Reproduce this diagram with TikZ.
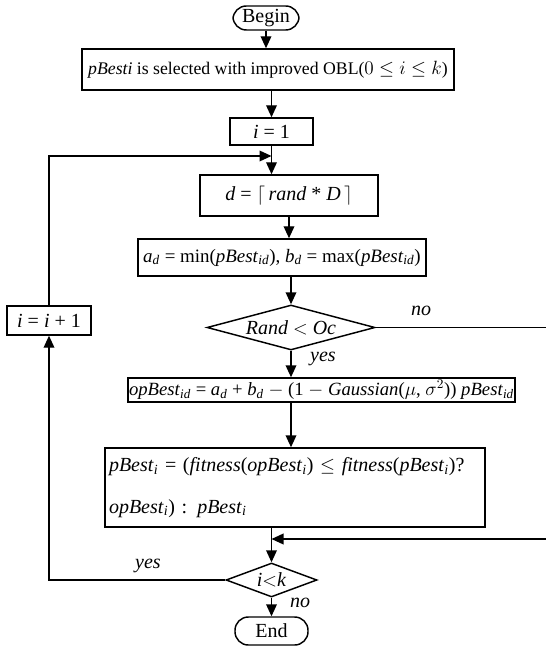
\documentclass[tikz,border=0pt]{standalone}
\usepackage{fontspec}
\setmainfont{Liberation Serif}
\setmathrm{Liberation Serif}
\usetikzlibrary{arrows.meta,shapes.geometric}

\newcommand{\iv}[1]{\textit{#1}}

\tikzset{
  arr/.style={-{Triangle[length=9pt,width=8pt]}},
  procbox/.style={draw,line width=1.1pt,inner sep=0pt},
  termbox/.style={draw,line width=1.1pt,rounded corners=10pt,inner sep=0pt},
  decbox/.style={draw,diamond,line width=1.1pt,inner sep=0pt},
  lbl/.style={font=\fontsize{15}{17}\selectfont\itshape}
}

\begin{document}
\begin{tikzpicture}[x=0.75pt,y=0.75pt,yscale=-1,line width=1.1pt,font=\fontsize{15}{17}\selectfont]
\useasboundingbox (0,0) rectangle (545,648);

%Shape: Terminal
\node (begin) at (266,18) [termbox,minimum width=66*0.75pt,minimum height=24*0.75pt] {Begin};
%Shape: Rectangle
\node (obl) at (268,69.5) [procbox,minimum width=372*0.75pt,minimum height=41*0.75pt,font=\fontsize{13.3}{16}\selectfont] {\iv{pBesti} is selected with improved OBL($0 \leq i \leq k$)};
%Shape: Rectangle
\node (i1) at (271.5,131.5) [procbox,minimum width=83*0.75pt,minimum height=27*0.75pt] {\iv{i} = 1};
%Shape: Rectangle
\node (dbox) at (289,195.5) [procbox,minimum width=178*0.75pt,minimum height=41*0.75pt] {\iv{d} = $\lceil$\,\iv{rand} * \iv{D}\,$\rceil$};
%Shape: Rectangle
\node (ab) at (282,257.5) [procbox,minimum width=288*0.75pt,minimum height=37*0.75pt,font=\fontsize{14.2}{16}\selectfont] {\iv{a}\textsubscript{\iv{d}} = min(\iv{pBest}\textsubscript{\iv{id}}), \iv{b}\textsubscript{\iv{d}} = max(\iv{pBest}\textsubscript{\iv{id}})};
%Shape: Diamond
\node (rand) at (291,327.5) [decbox,minimum width=168*0.75pt,minimum height=45*0.75pt,aspect=3.7] {\iv{Rand} $<$ \iv{Oc}};
%Shape: Rectangle
\node (op) at (321.5,390) [procbox,minimum width=387*0.75pt,minimum height=24*0.75pt,font=\fontsize{14}{16}\selectfont] {\iv{opBest}\textsubscript{\iv{id}} = \iv{a}\textsubscript{\iv{d}} + \iv{b}\textsubscript{\iv{d}} $-$ (1 $-$ \iv{Gaussian}($\mu$, $\sigma^2$)) \iv{pBest}\textsubscript{\iv{id}}};
%Shape: Rectangle
\node (pb) at (295,487.5) [procbox,minimum width=380*0.75pt,minimum height=79*0.75pt,text width=372*0.75pt,align=left,font=\fontsize{15}{31}\selectfont] {\iv{pBest}\textsubscript{\iv{i}} = (\iv{fitness}(\iv{opBest}\textsubscript{\iv{i}}) $\leq$ \iv{fitness}(\iv{pBest}\textsubscript{\iv{i}})?\\\iv{opBest}\textsubscript{\iv{i}}) : \iv{pBest}\textsubscript{\iv{i}}};
%Shape: Diamond
\node (ik) at (271.5,580) [decbox,minimum width=91*0.75pt,minimum height=34*0.75pt,aspect=2.7] {\iv{i}$<$\iv{k}};
%Shape: Terminal
\node (endn) at (271.5,631) [termbox,minimum width=73*0.75pt,minimum height=28*0.75pt] {End};
%Shape: Rectangle
\node (inc) at (49,320.5) [procbox,minimum width=84*0.75pt,minimum height=29*0.75pt] {\iv{i} = \iv{i} + 1};

%Coordinates for bends
\coordinate (loop) at (49,156);
\coordinate (nr) at (548,327.5);
\coordinate (nb) at (548,539);

%Straight Lines
\draw[arr] (begin.south) -- (begin.south |- obl.north);
\draw[arr] (obl.south -| i1.north) -- (i1.north);
\draw[arr] (i1.south) -- (i1.south |- dbox.north);
\draw[arr] (dbox.south) -- (dbox.south |- ab.north);
\draw[arr] (ab.south -| rand.north) -- (rand.north);
\draw[arr] (rand.south) -- (rand.south |- op.north);
\draw[arr] (rand.south |- op.south) -- (rand.south |- pb.north);
\draw[arr] (pb.south -| ik.north) -- (ik.north);
\draw[arr] (ik.south) -- (endn.north);
%no branch
\draw[arr] (rand.east) -- (nr) -- (nb) -- (nb -| ik.north);
%loop back
\draw[arr] (ik.west) -| (inc.south);
\draw[arr] (inc.north) -- (loop) -- (loop -| i1.south);

% Text Node
\node (lno1) at (421,311) [lbl] {no};
% Text Node
\node (lyes1) at (323,359) [lbl] {yes};
% Text Node
\node (lyes2) at (148,566) [lbl] {yes};
% Text Node
\node (lno2) at (300,603) [lbl] {no};

\end{tikzpicture}
\end{document}
